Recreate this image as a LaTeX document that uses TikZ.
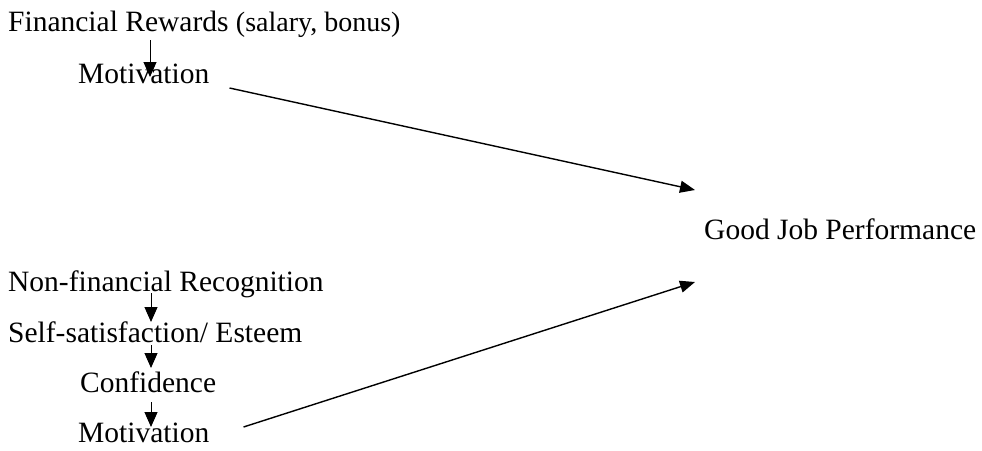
\documentclass[tikz,border=0pt]{standalone}
\usepackage{fontspec}
\setmainfont{Liberation Serif}
\usetikzlibrary{arrows.meta,calc}
\begin{document}
\begin{tikzpicture}[x=1pt,y=-1pt,
  lbl/.style={anchor=base west,inner sep=0pt,font=\fontsize{29.5}{32}\selectfont},
  vlink/.style={line width=1pt,-{Triangle[length=15pt,width=13pt]}},
  blink/.style={line width=1.4pt,-{Triangle[length=15pt,width=12pt]}}]
\useasboundingbox (0,0) rectangle (982,450);
\node[lbl] (fin) at (8,31) {Financial Rewards {\fontsize{28}{30}\selectfont(salary, bonus)}};
\node[lbl] (mot1) at (78,83) {Motivation};
\node[lbl] (good) at (704,239) {Good Job Performance};
\node[lbl] (non) at (8,291) {Non-financial Recognition};
\node[lbl] (self) at (8,342) {Self-satisfaction/ Esteem};
\node[lbl] (conf) at (80,392) {Confidence};
\node[lbl] (mot2) at (78,442) {Motivation};
\coordinate (ax) at (150,0);
\coordinate (bx) at (151,0);
\draw[vlink] ($(fin.base -| ax)+(0,9)$) -- ($(mot1.base -| ax)+(0,-6)$);
\draw[vlink] ($(non.base -| bx)+(0,2)$) -- ($(self.base -| bx)+(0,-20)$);
\draw[vlink] ($(self.base -| bx)+(0,3)$) -- ($(conf.base -| bx)+(0,-24)$);
\draw[vlink] ($(conf.base -| bx)+(0,10)$) -- ($(mot2.base -| bx)+(0,-15)$);
\draw[blink] ($(mot1.base east)+(20,5)$) -- ($(good.base west)+(-9,-49)$);
\draw[blink] ($(mot2.base east)+(34,-15)$) -- ($(good.base west)+(-9,43)$);
\end{tikzpicture}
\end{document}
